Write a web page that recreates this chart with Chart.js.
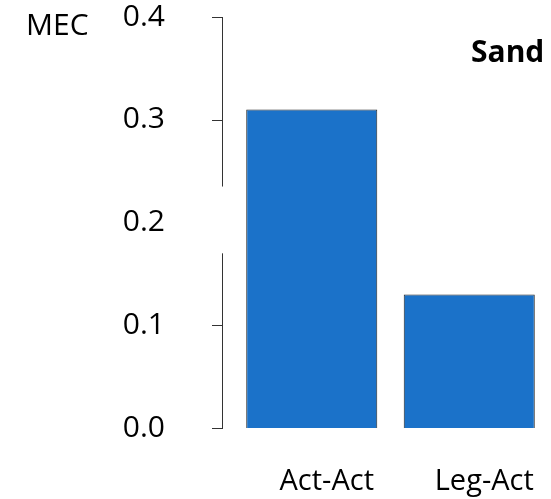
<!DOCTYPE html>
<html>
<head>
<meta charset="utf-8">
<script src="https://cdn.jsdelivr.net/npm/chart.js@4"></script>
<style>
  body { margin: 0; background: #fff; }
</style>
</head>
<body>
<canvas id="myChart" width="551" height="499"></canvas>
<script>
const categories = ['Act-Act', 'Leg-Act'];
const mecValues = [0.31, 0.13];
const yTickValues = [0.0, 0.1, 0.2, 0.3, 0.4];
const yTickMarks = [0.0, 0.1, 0.3, 0.4]; // 0.2 sits in the axis break
const axisBreak = [0.17, 0.235];

const FONT = "'Open Sans', sans-serif";

// broken y axis line, tick marks and the two loose labels
const axisPlugin = {
  id: 'axisPlugin',
  afterDraw(chart) {
    const c = chart.ctx;
    const y = chart.scales.y;
    const x0 = chart.chartArea.left - 11;
    c.save();
    c.strokeStyle = '#333';
    c.lineWidth = 1;
    c.beginPath();
    c.moveTo(x0 + 0.5, y.getPixelForValue(0.4));
    c.lineTo(x0 + 0.5, y.getPixelForValue(axisBreak[1]));
    c.moveTo(x0 + 0.5, y.getPixelForValue(axisBreak[0]));
    c.lineTo(x0 + 0.5, y.getPixelForValue(0));
    yTickMarks.forEach(v => {
      const py = Math.round(y.getPixelForValue(v)) + 0.5;
      c.moveTo(x0 - 10, py);
      c.lineTo(x0 + 1, py);
    });
    c.stroke();

    c.fillStyle = '#000';
    c.textBaseline = 'alphabetic';
    c.textAlign = 'left';
    c.font = '30px ' + FONT;
    c.fillText('MEC', 26, 35);
    c.font = 'bold 30px ' + FONT;
    c.fillText('Sand', 471, 62);
    c.restore();
  }
};

const ctx = document.getElementById('myChart').getContext('2d');
const myChart = new Chart(ctx, {
  type: 'bar',
  data: {
    labels: categories,
    datasets: [{
      label: 'MEC',
      data: mecValues,
      backgroundColor: '#1b72c9',
      borderColor: '#222',
      borderWidth: 1,
      categoryPercentage: 1,
      barPercentage: 0.832
    }]
  },
  options: {
    responsive: false,
    animation: false,
    layout: { padding: { top: 17, right: 3, left: 0, bottom: 0 } },
    plugins: {
      legend: { display: false },
      tooltip: { enabled: false }
    },
    scales: {
      x: {
        grid: { display: false, drawTicks: false },
        border: { display: false },
        ticks: {
          color: '#000',
          font: { family: FONT, size: 29 },
          padding: 36,
          labelOffset: 15,
          maxRotation: 0
        },
        afterFit(scale) {
          scale.height = 71;
          scale.paddingLeft = 0;
          scale.paddingRight = 0;
        }
      },
      y: {
        min: 0,
        max: 0.4,
        grid: { display: false, drawTicks: false },
        border: { display: false },
        afterBuildTicks(scale) {
          scale.ticks = yTickValues.map(v => ({ value: v }));
        },
        ticks: {
          color: '#000',
          font: { family: FONT, size: 30 },
          padding: 68,
          callback: v => Number(v).toFixed(1)
        },
        afterFit(scale) {
          scale.width = 233;
          scale.paddingTop = 0;
          scale.paddingBottom = 0;
        }
      }
    }
  },
  plugins: [axisPlugin]
});
</script>
</body>
</html>
